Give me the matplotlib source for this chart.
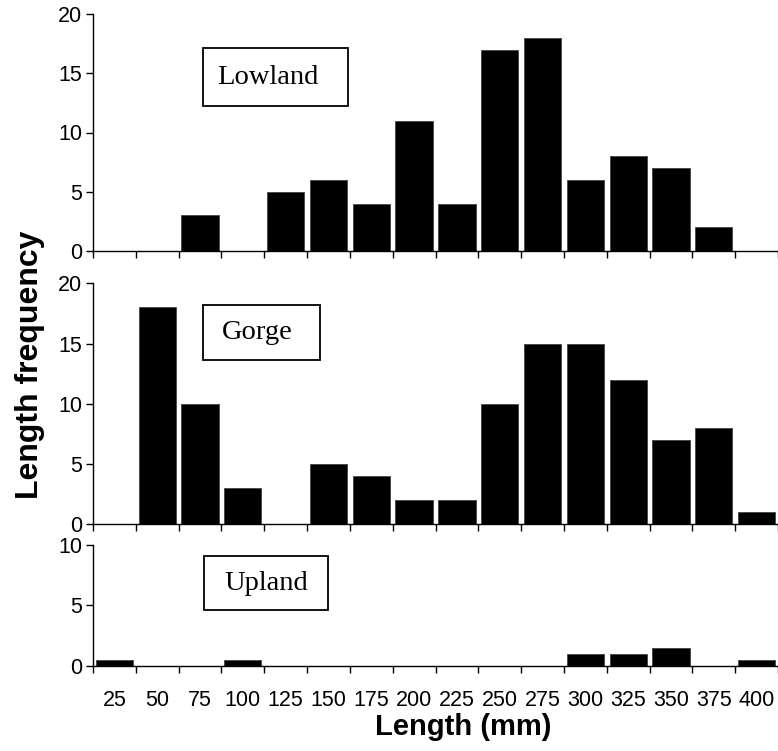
import numpy as np
import matplotlib
matplotlib.use("Agg")
import matplotlib.pyplot as plt
from matplotlib.patches import Rectangle

# length classes (mm) and counts per site
lengths = [25, 50, 75, 100, 125, 150, 175, 200, 225, 250, 275, 300, 325, 350, 375, 400]
lowland = [0, 0, 3, 0, 5, 6, 4, 11, 4, 17, 18, 6, 8, 7, 2, 0]
gorge = [0, 18, 10, 3, 0, 5, 4, 2, 2, 10, 15, 15, 12, 7, 8, 1]
upland = [0.5, 0, 0, 0.5, 0, 0, 0, 0, 0, 0, 0, 1, 1, 1.5, 0, 0.5]

sites = ["Lowland", "Gorge", "Upland"]
ymax = [20, 20, 10]

W, H = 778, 751
fig = plt.figure(figsize=(W / 100, H / 100), dpi=100)

# panel extents in pixels: (top, bottom)
panels = [(14, 251), (283.3, 524.3), (544.7, 666)]
# label boxes in pixels: (left, top, right, bottom, text_left)
boxes = [(203, 48, 348, 106, 217), (203, 305, 320, 360, 222), (204, 556, 328, 610, 224)]

x = np.arange(len(lengths))
sans = "Liberation Sans"

for i, counts in enumerate([lowland, gorge, upland]):
    top, bot = panels[i]
    ax = fig.add_axes([93 / W, 1 - bot / H, 685 / W, (bot - top) / H])
    ax.bar(x, counts, width=0.87, color="black", edgecolor="#444444", linewidth=0.6)
    ax.set_xlim(-0.5, len(lengths) - 0.5)
    ax.set_ylim(0, ymax[i])
    ax.set_yticks(np.arange(0, ymax[i] + 1, 5))
    for s in ["top", "right"]:
        ax.spines[s].set_visible(False)
    for s in ["left", "bottom"]:
        ax.spines[s].set_linewidth(1.0)
    ax.set_xticks(np.arange(-0.5, len(lengths), 1))
    ax.set_xticklabels([])
    ax.tick_params(axis="both", which="major", direction="out", length=5, width=1.0)
    ax.tick_params(axis="y", labelsize=15.5, pad=3)
    for lab in ax.get_yticklabels():
        lab.set_fontfamily(sans)
    if i == 2:
        ax.set_xticks(x, minor=True)
        ax.set_xticklabels([str(v) for v in lengths], minor=True, fontfamily=sans, fontsize=15.5)
        ax.tick_params(axis="x", which="minor", length=0, pad=17)
    else:
        ax.tick_params(axis="x", which="minor", length=0)

    l, t, r, b, tl = boxes[i]
    fig.add_artist(Rectangle((l / W, 1 - b / H), (r - l) / W, (b - t) / H,
                             transform=fig.transFigure, facecolor="white",
                             edgecolor="black", linewidth=1.3))
    fig.text(tl / W, 1 - ((t + b) / 2) / H, sites[i], fontfamily="Liberation Serif",
             fontsize=20.5, ha="left", va="center")

fig.text(30 / W, 1 - 365 / H, "Length frequency", rotation=90, fontfamily=sans,
         fontweight="bold", fontsize=23, ha="center", va="center")
fig.text(463 / W, 1 - 727 / H, "Length (mm)", fontfamily=sans,
         fontweight="bold", fontsize=21, ha="center", va="center")

fig.savefig("out.png", dpi=100)
